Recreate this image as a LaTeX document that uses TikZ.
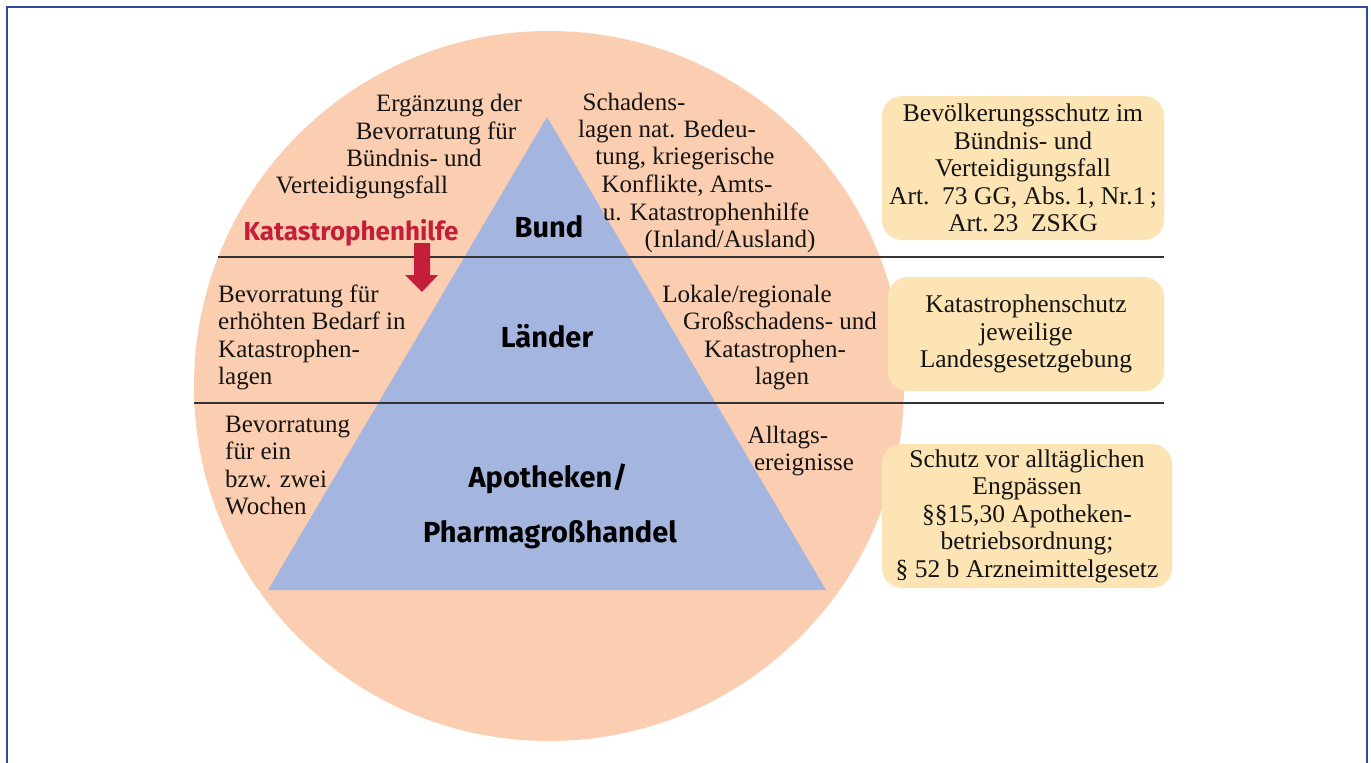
\documentclass[tikz,border=0pt]{standalone}
\usepackage{fontspec}
\setmainfont{Liberation Serif}
\newfontfamily\labsans{Fira Sans}
\definecolor{peach}{HTML}{FBCEB1}
\definecolor{triblue}{HTML}{A4B6DF}
\definecolor{boxyel}{HTML}{FDE4B4}
\definecolor{framecol}{HTML}{2B4C9B}
\definecolor{redlab}{HTML}{C41E3A}
\definecolor{txtcol}{HTML}{141414}
\definecolor{rulecol}{HTML}{333333}
\tikzset{
  txt/.style={inner sep=0pt, text=txtcol, font=\fontsize{25}{27.5}\selectfont},
  lvl/.style={inner sep=0pt, text=black, font=\labsans\bfseries\fontsize{29}{33}\selectfont},
  infobox/.style={fill=boxyel, rounded corners=20pt, inner sep=0pt, align=center,
    text=txtcol, font=\fontsize{25.5}{27.5}\selectfont},
  sep/.style={draw=rulecol, line width=1.4pt},
}
\begin{document}
\begin{tikzpicture}[x=1pt,y=-1pt]
\useasboundingbox (0,0) rectangle (1371,763);
\fill[white] (0,0) rectangle (1371,763);
\begin{scope}
\clip (0,0) rectangle (1371,763);
\draw[framecol, line width=2.6pt] (7,7) rectangle (1367,820);
\end{scope}
% circle and triangle
\fill[peach] (549,386) circle [radius=355pt];
\fill[triblue] (547,117) -- (268,590) -- (826,590) -- cycle;
% separating rules
\coordinate (r1l) at (218.3,257);
\coordinate (r1r) at (1164,257);
\coordinate (r2l) at (194.4,403);
\coordinate (r2r) at (1164,403);
\draw[sep] (r1l) -- (r1r);
\draw[sep] (r2l) -- (r2r);
% level labels
\node[lvl, anchor=base] (bund) at (549,237) {Bund};
\node[lvl, anchor=base] (laender) at (547,347) {Länder};
\node[lvl, anchor=base] (apo) at (548,487) {Apotheken/};
\node[lvl, anchor=base] (pharma) at (550,542) {Pharmagroßhandel};
% Katastrophenhilfe + arrow
\node[inner sep=0pt, anchor=base, text=redlab, font=\labsans\bfseries\fontsize{26}{30}\selectfont] (khilfe) at (351,240) {Katastrophenhilfe};
\fill[redlab] (414,243) -- (430,243) -- (430,275) -- (438,275) -- (422,292) -- (405,275) -- (414,275) -- cycle;
% block A
\node[txt, anchor=base] (a1) at (449,111) {Ergänzung der};
\node[txt, anchor=base] (a2) at (436,139) {Bevorratung für};
\node[txt, anchor=base] (a3) at (414,166) {Bündnis- und};
\node[txt, anchor=base] (a4) at (362,193) {Verteidigungsfall};
% block B
\node[txt, anchor=base] (b1) at (634,110) {Schadens-};
\node[txt, anchor=base] (b2) at (667,137) {lagen nat. Bedeu-};
\node[txt, anchor=base] (b3) at (685,164) {tung, kriegerische};
\node[txt, anchor=base] (b4) at (687,192) {Konflikte, Amts-};
\node[txt, anchor=base] (b5) at (706,220) {u. Katastrophenhilfe};
\node[txt, anchor=base] (b6) at (730,247) {(Inland/Ausland)};
% block C
\node[txt, anchor=base west] (c1) at (218,302) {Bevorratung für};
\node[txt, anchor=base west] (c2) at (218,329) {erhöhten Bedarf in};
\node[txt, anchor=base west] (c3) at (218,357) {Katastrophen-};
\node[txt, anchor=base west] (c4) at (218,384) {lagen};
% block D
\node[txt, anchor=base] (d1) at (747,302) {Lokale/regionale};
\node[txt, anchor=base] (d2) at (780,329) {Großschadens- und};
\node[txt, anchor=base] (d3) at (775,357) {Katastrophen-};
\node[txt, anchor=base] (d4) at (782,384) {lagen};
% block E
\node[txt, anchor=base west] (e1) at (225,432) {Bevorratung};
\node[txt, anchor=base west] (e2) at (225,459) {für ein};
\node[txt, anchor=base west] (e3) at (225,487) {bzw. zwei};
\node[txt, anchor=base west] (e4) at (225,514) {Wochen};
% block F
\node[txt, anchor=base] (f1) at (788,443) {Alltags-};
\node[txt, anchor=base] (f2) at (804,470) {ereignisse};
% info boxes
\node[infobox, minimum width=282pt, minimum height=144pt] (box1) at (1023,168)
  {Bevölkerungsschutz im\\Bündnis- und\\Verteidigungsfall\\Art.\ \ 73 GG, Abs.\,1, Nr.1\,;\\Art.\,23\ \ ZSKG};
\node[infobox, minimum width=276pt, minimum height=114pt] (box2) at (1026,334)
  {Katastrophenschutz\\jeweilige\\Landesgesetzgebung};
\node[infobox, minimum width=290pt, minimum height=144pt] (box3) at (1027,516)
  {Schutz vor alltäglichen\\Engpässen\\§§15,30 Apotheken-\\betriebsordnung;\\§ 52 b Arzneimittelgesetz};
\end{tikzpicture}
\end{document}
